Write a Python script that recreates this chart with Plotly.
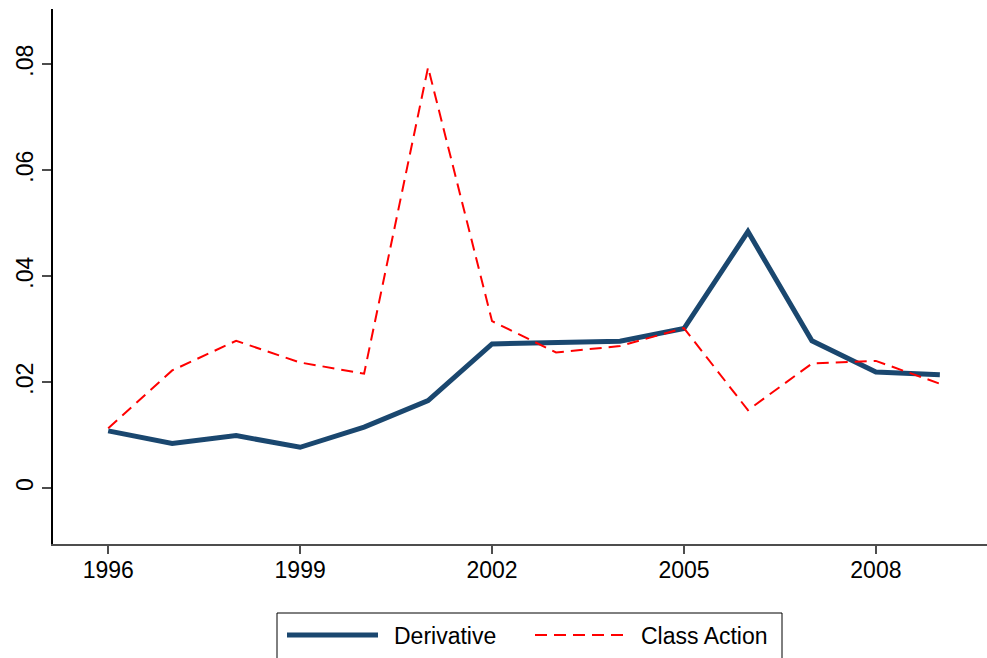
import plotly.graph_objects as go

# Annual rates by filing type
years = list(range(1996, 2010))
derivative = [0.0108, 0.0084, 0.0099, 0.0077, 0.0115, 0.0165, 0.0272,
              0.0275, 0.0277, 0.0301, 0.0484, 0.0278, 0.0219, 0.0214]
class_action = [0.0113, 0.0222, 0.0278, 0.0237, 0.0216, 0.0794, 0.0315,
                0.0256, 0.0268, 0.0302, 0.0147, 0.0235, 0.0240, 0.0197]

x_ticks = [1996, 1999, 2002, 2005, 2008]
y_ticks = [0, 0.02, 0.04, 0.06, 0.08]
y_tick_text = ["0", ".02", ".04", ".06", ".08"]
series_names = ["Derivative", "Class Action"]

NAVY = "#1a476f"
RED = "#ff0000"
FONT = "Liberation Sans, Arial, Helvetica, sans-serif"
DASH = "12px,7px"

fig = go.Figure()
fig.add_trace(go.Scatter(x=years, y=derivative, mode="lines", name=series_names[0],
                         line=dict(color=NAVY, width=5)))
fig.add_trace(go.Scatter(x=years, y=class_action, mode="lines", name=series_names[1],
                         line=dict(color=RED, width=2, dash=DASH)))

W, H = 987, 658
L, R, T, B = 53, 0, 9, 114
pw, ph = W - L - R, H - T - B


def px(x):
    return (x - L) / pw


def py(y):
    return (H - B - y) / ph


# Boxed legend below the plot
shapes = [
    dict(type="rect", xref="paper", yref="paper",
         x0=px(277), x1=px(782), y0=py(613), y1=py(680),
         line=dict(color="black", width=1), fillcolor="white", layer="above"),
    dict(type="line", xref="paper", yref="paper",
         x0=px(287), x1=px(378), y0=py(635), y1=py(635),
         line=dict(color=NAVY, width=5)),
    dict(type="line", xref="paper", yref="paper",
         x0=px(535), x1=px(626), y0=py(635), y1=py(635),
         line=dict(color=RED, width=2, dash=DASH)),
]
annotations = [
    dict(xref="paper", yref="paper", x=px(392), y=py(636), text=series_names[0],
         showarrow=False, xanchor="left", yanchor="middle",
         font=dict(family=FONT, size=23, color="black")),
    dict(xref="paper", yref="paper", x=px(639), y=py(636), text=series_names[1],
         showarrow=False, xanchor="left", yanchor="middle",
         font=dict(family=FONT, size=23, color="black")),
]

fig.update_layout(
    width=W, height=H,
    margin=dict(l=L, r=R, t=T, b=B, pad=0),
    paper_bgcolor="white", plot_bgcolor="white",
    showlegend=False,
    font=dict(family=FONT, size=23, color="black"),
    shapes=shapes, annotations=annotations,
    xaxis=dict(range=[1995.137, 2009.737], tickvals=x_ticks,
               showgrid=False, zeroline=False,
               showline=True, linecolor="#4d4d4d", linewidth=2,
               ticks="outside", ticklen=8, tickwidth=1.5, tickcolor="#4d4d4d",
               ticklabelstandoff=-4,
               tickfont=dict(family=FONT, size=23, color="black")),
    yaxis=dict(range=[-0.01055, 0.0904], tickvals=y_ticks, ticktext=y_tick_text,
               showgrid=False, zeroline=False,
               showline=True, linecolor="black", linewidth=1.5,
               ticks="outside", ticklen=9, tickwidth=1.5, tickcolor="#4d4d4d",
               tickangle=-90, ticklabelstandoff=0,
               tickfont=dict(family=FONT, size=23, color="black")),
)

fig.write_html("out.html")
